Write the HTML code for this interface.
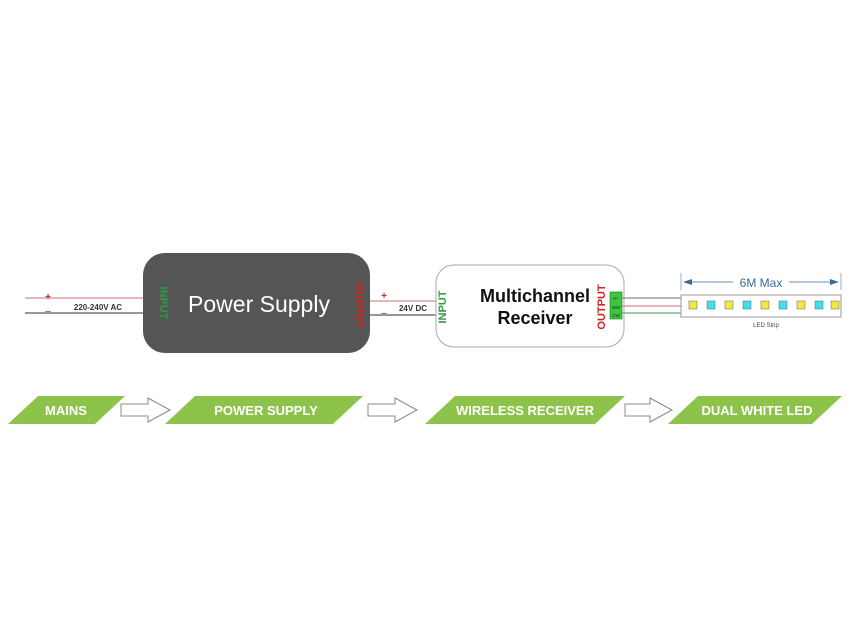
<!DOCTYPE html>
<html><head><meta charset="utf-8"><style>
html,body{margin:0;padding:0;background:#fff;}
svg{display:block;font-family:"Liberation Sans",sans-serif;}
</style></head><body>
<svg width="850" height="638" viewBox="0 0 850 638" xmlns="http://www.w3.org/2000/svg">
<line x1="25" y1="298" x2="143" y2="298" stroke="#d98a8a" stroke-width="1.2"/>
<line x1="25" y1="313" x2="143" y2="313" stroke="#777" stroke-width="1.5"/>
<text x="48" y="300" font-size="10" fill="#c03030" font-weight="bold" text-anchor="middle">+</text>
<text x="48" y="314" font-size="10" fill="#444" text-anchor="middle">–</text>
<text x="98" y="310" font-size="8" font-weight="bold" fill="#333" text-anchor="middle">220-240V AC</text>
<rect x="143" y="253" width="227" height="100" rx="22" fill="#555"/>
<text x="259" y="312" font-size="23" fill="#fff" text-anchor="middle">Power Supply</text>
<text transform="translate(160,303) rotate(90)" font-size="11" font-weight="bold" fill="#2e9a3e" text-anchor="middle">INPUT</text>
<text transform="translate(356,305) rotate(90)" font-size="11" font-weight="bold" fill="#d02020" text-anchor="middle">OUTPUT</text>
<line x1="370" y1="301" x2="437" y2="301" stroke="#d98a8a" stroke-width="1.2"/>
<line x1="370" y1="315" x2="437" y2="315" stroke="#777" stroke-width="1.5"/>
<text x="384" y="299" font-size="10" fill="#c03030" font-weight="bold" text-anchor="middle">+</text>
<text x="384" y="316" font-size="10" fill="#444" text-anchor="middle">–</text>
<text x="413" y="311" font-size="8" font-weight="bold" fill="#333" text-anchor="middle">24V DC</text>
<rect x="436" y="265" width="188" height="82" rx="18" fill="#fff" stroke="#aaa" stroke-width="1"/>
<text x="535" y="302" font-size="18" font-weight="bold" fill="#111" text-anchor="middle">Multichannel</text>
<text x="535" y="324" font-size="18" font-weight="bold" fill="#111" text-anchor="middle">Receiver</text>
<text transform="translate(446,307) rotate(-90)" font-size="11" font-weight="bold" fill="#2e9a3e" text-anchor="middle">INPUT</text>
<text transform="translate(605,307) rotate(-90)" font-size="11" font-weight="bold" fill="#d02020" text-anchor="middle">OUTPUT</text>
<rect x="610" y="292" width="12" height="27" fill="#3ec43e" stroke="#1a7a1a" stroke-width="0.6"/>
<text x="616" y="300" font-size="4.5" fill="#033" text-anchor="middle">V+</text>
<text x="616" y="309" font-size="4.5" fill="#033" text-anchor="middle">WW</text>
<text x="616" y="317" font-size="4.5" fill="#033" text-anchor="middle">CW</text>
<line x1="622" y1="298" x2="682" y2="298" stroke="#888" stroke-width="1.2"/>
<line x1="622" y1="306" x2="682" y2="306" stroke="#d98a8a" stroke-width="1.2"/>
<line x1="622" y1="313" x2="682" y2="313" stroke="#6fa87a" stroke-width="1.2"/>
<line x1="681" y1="273" x2="681" y2="290" stroke="#8fb0d0" stroke-width="1"/>
<line x1="841" y1="273" x2="841" y2="290" stroke="#8fb0d0" stroke-width="1"/>
<line x1="686" y1="282" x2="836" y2="282" stroke="#6e8fb0" stroke-width="1"/>
<polygon points="683,282 692,279 692,285" fill="#3a6a9a"/>
<polygon points="839,282 830,279 830,285" fill="#3a6a9a"/>
<rect x="733" y="275" width="56" height="14" fill="#fff"/>
<text x="761" y="287" font-size="12" fill="#3a6a9a" text-anchor="middle">6M Max</text>
<rect x="681" y="295" width="160" height="22" fill="#fff" stroke="#999" stroke-width="1"/>
<g stroke="#777" stroke-width="0.6">
<rect x="689" y="301" width="8" height="8" fill="#f3e840"/>
<rect x="707" y="301" width="8" height="8" fill="#3ee0f0"/>
<rect x="725" y="301" width="8" height="8" fill="#f3e840"/>
<rect x="743" y="301" width="8" height="8" fill="#3ee0f0"/>
<rect x="761" y="301" width="8" height="8" fill="#f3e840"/>
<rect x="779" y="301" width="8" height="8" fill="#3ee0f0"/>
<rect x="797" y="301" width="8" height="8" fill="#f3e840"/>
<rect x="815" y="301" width="8" height="8" fill="#3ee0f0"/>
<rect x="831" y="301" width="8" height="8" fill="#f3e840"/>
</g>
<text x="766" y="327" font-size="6" fill="#444" text-anchor="middle">LED Strip</text>
<g fill="#8dc34a">
<polygon points="38,396 125,396 95,424 8,424"/>
<polygon points="195,396 363,396 333,424 165,424"/>
<polygon points="455,396 625,396 595,424 425,424"/>
<polygon points="698,396 842,396 812,424 668,424"/>
</g>
<g font-size="13" font-weight="bold" fill="#fff" text-anchor="middle">
<text x="66" y="415">MAINS</text>
<text x="266" y="415">POWER SUPPLY</text>
<text x="525" y="415">WIRELESS RECEIVER</text>
<text x="757" y="415">DUAL WHITE LED</text>
</g>
<g fill="#fff" stroke="#888" stroke-width="1">
<polygon points="121,404 148,404 148,398 170,410 148,422 148,416 121,416"/>
<polygon points="368,404 395,404 395,398 417,410 395,422 395,416 368,416"/>
<polygon points="625,404 650,404 650,398 672,410 650,422 650,416 625,416"/>
</g>
</svg>
</body></html>
